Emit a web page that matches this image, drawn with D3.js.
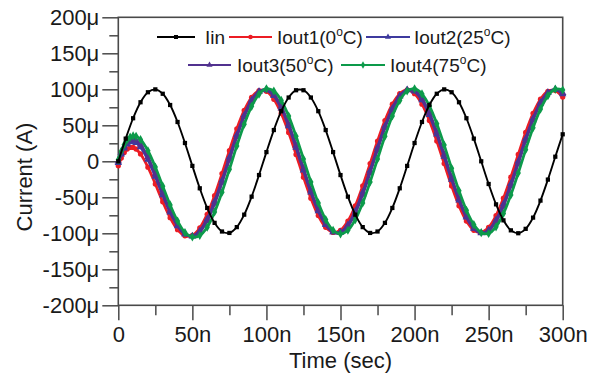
<!DOCTYPE html>
<html>
<head>
<meta charset="utf-8">
<script src="https://d3js.org/d3.v7.min.js"></script>
<style>
  body { margin: 0; background: #fff; }
  text { font-family: Arial, "Liberation Sans", sans-serif; fill: #1a1a1a; }
</style>
</head>
<body>
<svg id="vis" width="600" height="375"></svg>
<script>
// time grid (ns)
const tIn = [0,5,10,15,20,25,30,35,40,45,50,55,60,65,70,75,80,85,90,95,100,105,110,115,120,125,130,135,140,145,150,
  155,160,165,170,175,180,185,190,195,200,205,210,215,220,225,230,235,240,245,250,255,260,265,270,275,280,285,290,295,300];
const tOut = [0,2,4,6,8,10,12,15,20,25,30,35,40,45,50,55,60,65,70,75,80,85,90,95,100,105,110,115,120,125,130,135,140,145,150,
  155,160,165,170,175,180,185,190,195,200,205,210,215,220,225,230,235,240,245,250,255,260,265,270,275,280,285,290,295,300];

// currents (uA)
const iin = [0,31.5,59.8,82.0,95.9,99.9,93.8,78.2,54.6,25.4,-6.4,-37.5,-64.8,-85.5,-97.5,-99.5,-91.4,-74.1,-49.1,-19.1,
  12.8,43.4,69.6,88.6,98.7,98.7,88.6,69.6,43.4,12.8,-19.1,-49.1,-74.1,-91.4,-99.5,-97.5,-85.5,-64.8,-37.5,-6.4,
  25.4,54.6,78.2,93.8,99.9,95.9,82.0,59.8,31.5,0,-31.5,-59.8,-82.0,-95.9,-99.9,-93.8,-78.2,-54.6,-25.4,6.4,37.5];
const iout1 = [-6.2,4.5,12.1,17.0,19.3,19.2,17.0,10.2,-8.1,-31.5,-56.2,-78.3,-94.9,-103.5,-102.8,-92.6,-73.6,-47.7,-17.1,14.8,
  45.1,70.6,88.9,98.2,97.2,86.2,66.6,40.1,9.5,-22.0,-51.3,-75.4,-91.7,-98.8,-95.8,-83.0,-61.8,-34.2,-3.2,28.1,
  56.6,79.4,93.9,99.0,93.9,79.4,56.6,28.1,-3.2,-34.2,-61.8,-83.0,-95.8,-98.8,-91.7,-75.4,-51.3,-22.0,9.5,40.1,
  66.6,86.2,97.2,98.2,89.2];
const iout2 = [-2.0,9.5,18.0,23.7,26.7,27.3,25.7,19.8,2.3,-21.3,-47.0,-70.9,-89.9,-101.5,-103.9,-96.7,-80.2,-56.0,-26.6,5.5,
  36.6,64.0,85.1,97.0,99.0,91.0,73.7,48.9,19.0,-12.6,-43.2,-69.2,-88.2,-98.2,-98.2,-88.3,-69.2,-43.2,-12.8,19.0,
  48.9,73.6,91.0,99.0,97.0,85.1,64.5,37.4,6.4,-25.3,-54.2,-77.8,-93.4,-99.5,-95.4,-81.6,-59.5,-31.4,0,31.4,
  59.5,81.6,95.4,99.5,93.4];
const iout3 = [0,11.7,20.5,26.3,29.6,30.4,29.1,23.3,5.9,-17.7,-43.7,-68.4,-88.4,-100.9,-104.4,-98.1,-82.6,-58.9,-29.7,2.3,
  33.8,61.9,83.5,96.7,99.8,92.7,76.2,51.8,22.3,-9.6,-40.5,-67.2,-87.1,-98.2,-99.2,-90.1,-71.8,-46.3,-16.0,16.0,
  46.3,71.8,90.1,99.2,98.2,87.1,67.2,40.5,9.6,-22.3,-51.8,-76.2,-92.7,-99.8,-96.7,-83.8,-62.4,-34.5,-3.2,28.4,
  57.2,80.2,94.9,100,94.9];
const iout4 = [2.0,13.9,23.1,29.5,33.5,35.3,34.7,30.3,14.7,-8.0,-34.5,-60.6,-83.0,-99.0,-105.2,-103.0,-91.5,-70.5,-42.9,-11.2,
  21.4,51.4,76.3,93.1,100.8,97.7,84.6,63.0,34.8,3.2,-28.7,-57.8,-81.0,-95.8,-101.0,-95.8,-81.0,-57.8,-28.7,3.2,
  34.8,63.0,84.6,97.7,100.8,93.6,77.0,52.3,22.5,-9.7,-40.9,-67.9,-88.0,-99.1,-100.2,-91.0,-72.5,-46.7,-16.2,16.2,
  46.7,72.5,91.0,100.2,99.1];

const xTicks = [0,50,100,150,200,250,300];
const xTickLabels = ["0","50n","100n","150n","200n","250n","300n"];
const xMinor = [25,75,125,175,225,275];
const yTicks = [200,150,100,50,0,-50,-100,-150,-200];
const yTickLabels = ["200μ","150μ","100μ","50μ","0","-50μ","-100μ","-150μ","-200μ"];
const yMinor = [175,125,75,25,-25,-75,-125,-175];

const svg = d3.select("#vis");
const x = d3.scaleLinear().domain([0, 300]).range([118.3, 562.7]);
const y = d3.scaleLinear().domain([-200, 200]).range([305.3, 17.3]);
const axisColor = "#4a4a4a";

// axes
svg.append("g").attr("transform", "translate(0,305.3)")
  .call(d3.axisBottom(x).tickValues(xTicks).tickFormat((d, i) => xTickLabels[i]).tickSize(15).tickPadding(6).tickSizeOuter(0));
svg.append("g").attr("transform", "translate(0,305.3)")
  .call(d3.axisBottom(x).tickValues(xMinor).tickFormat("").tickSize(10).tickSizeOuter(0));
svg.append("g").attr("transform", "translate(118.3,0)")
  .call(d3.axisLeft(y).tickValues(yTicks).tickFormat((d, i) => yTickLabels[i]).tickSize(16).tickPadding(3).tickSizeOuter(0));
svg.append("g").attr("transform", "translate(118.3,0)")
  .call(d3.axisLeft(y).tickValues(yMinor).tickFormat("").tickSize(9).tickSizeOuter(0));

svg.selectAll(".domain").remove();
svg.selectAll(".tick line").attr("stroke", axisColor).attr("stroke-width", 1.5);
svg.selectAll(".tick text").style("font-size", "22px").attr("fill", "#1a1a1a");

// frame
svg.append("rect")
  .attr("x", 118.3).attr("y", 17.3)
  .attr("width", 562.7 - 118.3).attr("height", 305.3 - 17.3)
  .attr("fill", "none").attr("stroke", axisColor).attr("stroke-width", 1.6);

// axis titles
svg.append("text").attr("x", 340.5).attr("y", 368).attr("text-anchor", "middle")
  .style("font-size", "22px").text("Time (sec)");
svg.append("text").attr("transform", "translate(32,177) rotate(-90)").attr("text-anchor", "middle")
  .style("font-size", "22px").text("Current (A)");

// series
const series = [
  { label: ["Iout1(0", "C)"], t: tOut, v: iout1, color: "#ec1c24", sym: d3.symbolCircle, size: 22, width: 2.8 },
  { label: ["Iout2(25", "C)"], t: tOut, v: iout2, color: "#3e3a9e", sym: d3.symbolTriangle, size: 24, width: 2.8 },
  { label: ["Iout3(50", "C)"], t: tOut, v: iout3, color: "#51318f", sym: d3.symbolTriangle, size: 24, width: 2.8 },
  { label: ["Iout4(75", "C)"], t: tOut, v: iout4, color: "#0c9a4a", sym: d3.symbolDiamond, size: 24, width: 2.8 },
  { label: ["Iin"], t: tIn, v: iin, color: "#000000", sym: d3.symbolSquare, size: 18, width: 1.9 }
];

const line = d3.line().x(d => x(d[0])).y(d => y(d[1])).curve(d3.curveCatmullRom);

series.forEach(s => {
  const pts = s.t.map((t, i) => [t, s.v[i]]);
  svg.append("path").datum(pts)
    .attr("fill", "none").attr("stroke", s.color).attr("stroke-width", s.width)
    .attr("d", line);
  svg.append("g").selectAll("path").data(pts).join("path")
    .attr("transform", d => `translate(${x(d[0])},${y(d[1])})`)
    .attr("d", d3.symbol().type(s.sym).size(s.size))
    .attr("fill", s.color);
});

// legend
const legendItems = [
  { s: series[4], x1: 157, x2: 195, tx: 205, ly: 37 },
  { s: series[0], x1: 229, x2: 272, tx: 277, ly: 37 },
  { s: series[1], x1: 366, x2: 410, tx: 414, ly: 37 },
  { s: series[2], x1: 188, x2: 231, tx: 237, ly: 65 },
  { s: series[3], x1: 341, x2: 385, tx: 390, ly: 65 }
];
legendItems.forEach(it => {
  svg.append("line").attr("x1", it.x1).attr("x2", it.x2).attr("y1", it.ly).attr("y2", it.ly)
    .attr("stroke", it.s.color).attr("stroke-width", 1.8);
  svg.append("path").attr("transform", `translate(${(it.x1 + it.x2) / 2},${it.ly})`)
    .attr("d", d3.symbol().type(it.s.sym).size(16)).attr("fill", it.s.color);
  const tx = svg.append("text").attr("x", it.tx).attr("y", it.ly + 7).style("font-size", "19px");
  tx.append("tspan").text(it.s.label[0]);
  if (it.s.label.length > 1) {
    tx.append("tspan").attr("dy", -8).style("font-size", "12px").text("o");
    tx.append("tspan").attr("dy", 8).text(it.s.label[1]);
  }
});
</script>
</body>
</html>
